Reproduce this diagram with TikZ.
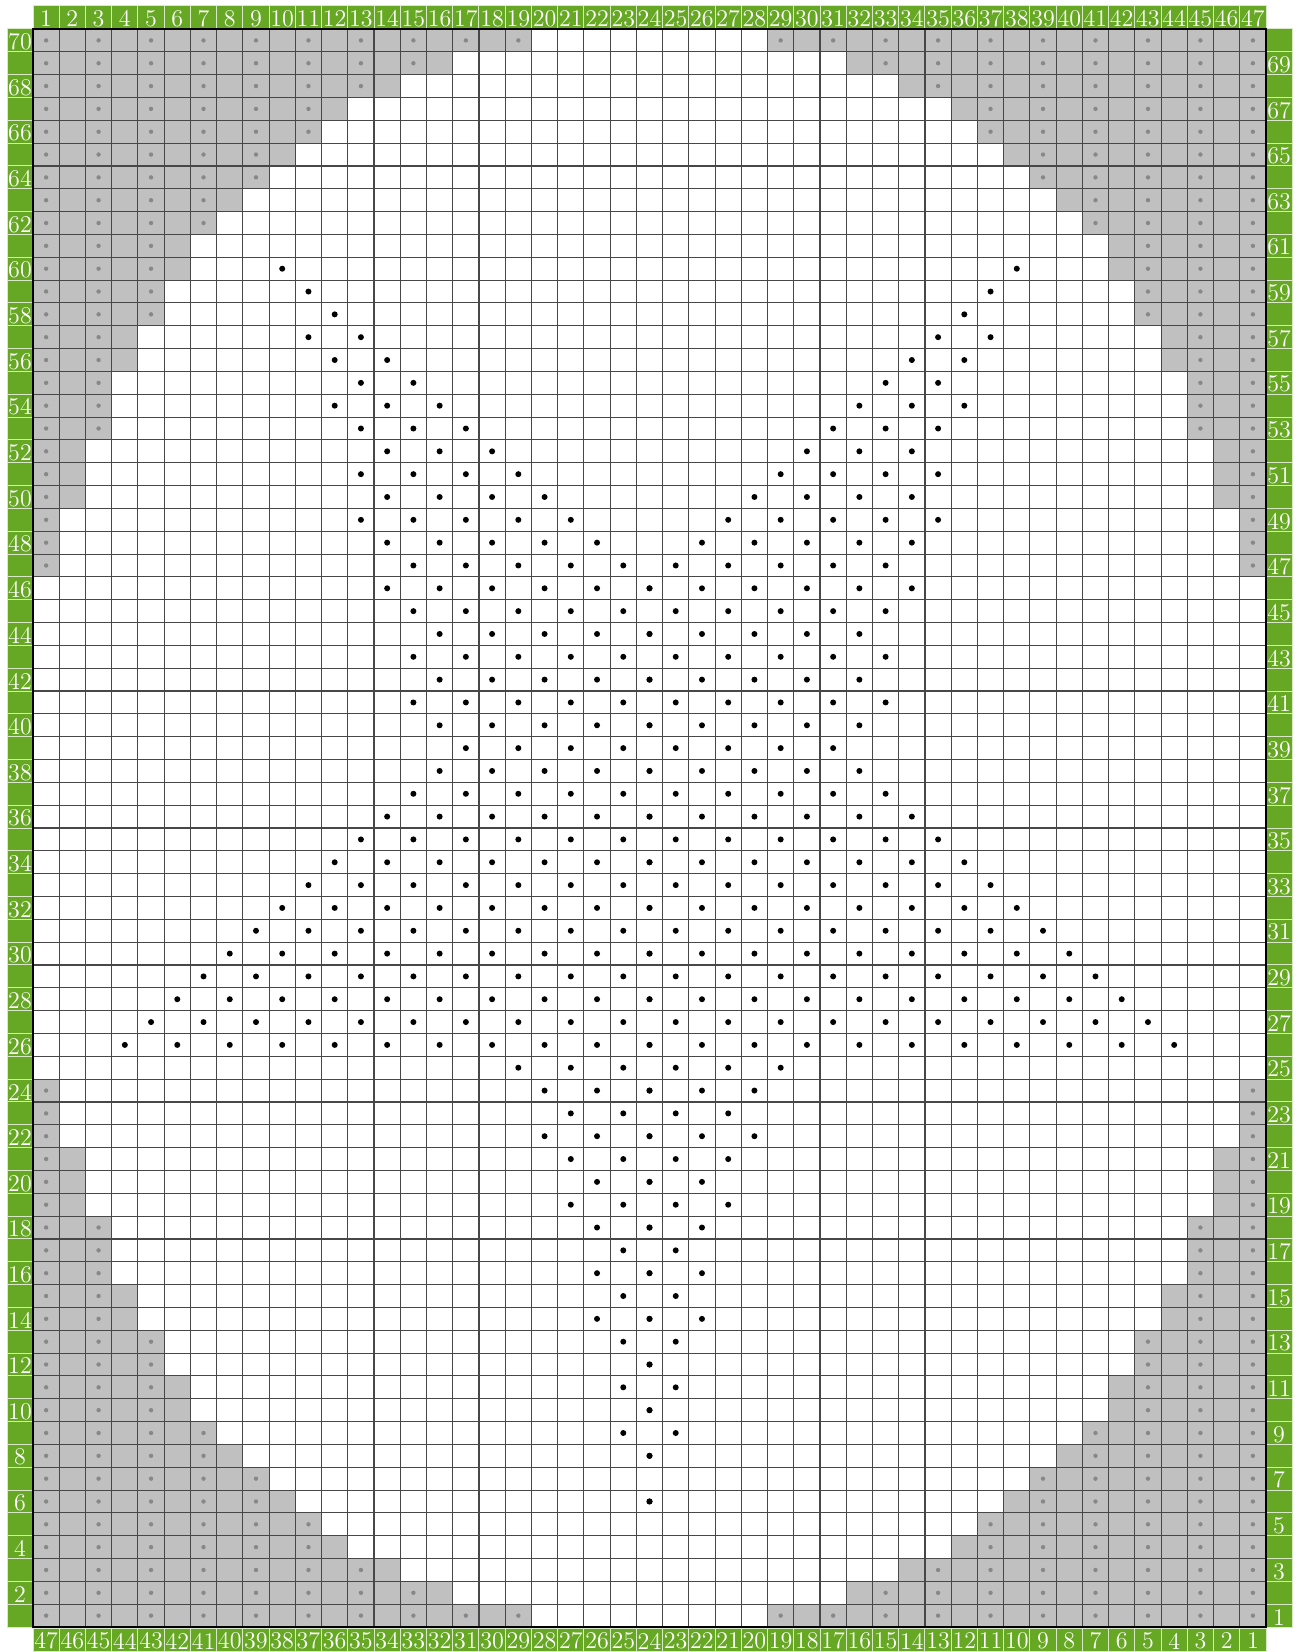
\documentclass[tikz,border=0pt]{standalone}
\usepackage{fontspec}
\definecolor{cellgray}{RGB}{192,192,192}
\definecolor{dotgray}{RGB}{136,136,136}
\definecolor{bandgreen}{RGB}{102,168,36}
\begin{document}
\begin{tikzpicture}[x=0.5pt,y=-0.5pt,
  gridline/.style={draw=black!72,line width=0.55pt},
  graycell/.style={fill=cellgray},
  graydot/.style={fill=dotgray},
  knitdot/.style={fill=black},
  band/.style={fill=bandgreen,draw=white!75!bandgreen,line width=0.5pt},
  lab/.style={text=white,font=\fontsize{12}{12}\selectfont,inner sep=0pt,yshift=-0.7pt}]
\useasboundingbox (0,0) rectangle (1297,1652);
\def\W{26.234}\def\H{22.829}\def\X{33}\def\Y{29}
% grey corner regions with grey dots
\foreach \r/\L in {1/19,2/16,3/14,4/12,5/11,6/10,7/9,8/8,9/7,10/6,11/6,12/5,13/5,14/4,15/4,16/3,17/3,18/3,19/2,20/2,21/2,22/1,23/1,24/1,47/1,48/1,49/1,50/2,51/2,52/2,53/3,54/3,55/3,56/4,57/4,58/5,59/5,60/6,61/6,62/7,63/8,64/9,65/10,66/11,67/12,68/14,69/16,70/19}{
  \pgfmathsetmacro\yt{\Y+(70-\r)*\H}
  \pgfmathsetmacro\yb{\yt+\H}
  \pgfmathsetmacro\yc{\yt+\H/2}
  \pgfmathsetmacro\xl{\X+\L*\W}
  \pgfmathsetmacro\xr{\X+(47-\L)*\W}
  \pgfmathtruncatemacro\R{48-\L}
  \fill[graycell] (\X,\yt) rectangle (\xl,\yb);
  \fill[graycell] (\xr,\yt) rectangle (1266,\yb);
  \foreach \c in {1,3,...,47}{
    \pgfmathtruncatemacro\isg{(\c<=\L)||(\c>=\R)}
    \ifnum\isg=1
      \pgfmathsetmacro\xc{\X+(\c-0.5)*\W}
      \fill[graydot] (\xc,\yc) circle[radius=1.1pt];
    \fi
  }
}
% black dots (pattern symmetric about column 24)
\foreach \r/\a/\b in {6/24/24,8/24/24,9/23/24,10/24/24,11/23/24,12/24/24,13/23/24,14/22/24,15/23/24,16/22/24,17/23/24,18/22/24,19/21/24,20/22/24,21/21/24,22/20/24,23/21/24,24/20/24,25/19/24,26/4/24,27/5/24,28/6/24,29/7/24,30/8/24,31/9/24,32/10/24,33/11/24,34/12/24,35/13/24,36/14/24,37/15/24,38/16/24,39/17/24,40/16/24,41/15/24,42/16/24,43/15/24,44/16/24,45/15/24,46/14/24,47/15/24,48/14/22,49/13/21,50/14/20,51/13/19,52/14/18,53/13/17,54/12/16,55/13/15,56/12/14,57/11/13,58/12/12,59/11/11,60/10/10}{
  \pgfmathsetmacro\yc{\Y+(70.5-\r)*\H}
  \foreach \c in {\a,...,\b}{
    \ifodd\numexpr\c+\r\relax\else
      \pgfmathsetmacro\xc{\X+(\c-0.5)*\W}
      \pgfmathsetmacro\xm{\X+(47.5-\c)*\W}
      \fill[knitdot] (\xc,\yc) circle[radius=1.5pt];
      \fill[knitdot] (\xm,\yc) circle[radius=1.5pt];
    \fi
  }
}
% grid
\foreach \i in {0,...,70}{
  \pgfmathsetmacro\yy{\Y+\i*\H}
  \draw[gridline] (\X,\yy) -- (1266,\yy);
}
\foreach \j in {0,...,47}{
  \pgfmathsetmacro\xx{\X+\j*\W}
  \draw[gridline] (\xx,\Y) -- (\xx,1627);
}
% column number bands
\foreach \c in {1,...,47}{
  \pgfmathsetmacro\xa{\X+(\c-1)*\W}
  \pgfmathsetmacro\xb{\xa+\W}
  \pgfmathsetmacro\xm{\xa+\W/2}
  \pgfmathtruncatemacro\cc{48-\c}
  \filldraw[band] (\xa,6) rectangle (\xb,29);
  \node[lab] (top\c) at (\xm,17.5) {\c};
  \filldraw[band] (\xa,1628) rectangle (\xb,1651);
  \node[lab] (bot\c) at (\xm,1639.5) {\cc};
}
% row number bands
\foreach \r in {1,...,70}{
  \pgfmathsetmacro\yt{\Y+(70-\r)*\H}
  \pgfmathsetmacro\yb{\yt+\H}
  \pgfmathsetmacro\ym{\yt+\H/2}
  \filldraw[band] (7,\yt) rectangle (33,\yb);
  \filldraw[band] (1266,\yt) rectangle (1292,\yb);
  \ifodd\r\relax
    \node[lab] (right\r) at (1279,\ym) {\r};
  \else
    \node[lab] (left\r) at (20,\ym) {\r};
  \fi
}
\draw[black,line width=0.7pt] (\X,\Y) rectangle (1266,1627);
\end{tikzpicture}
\end{document}
